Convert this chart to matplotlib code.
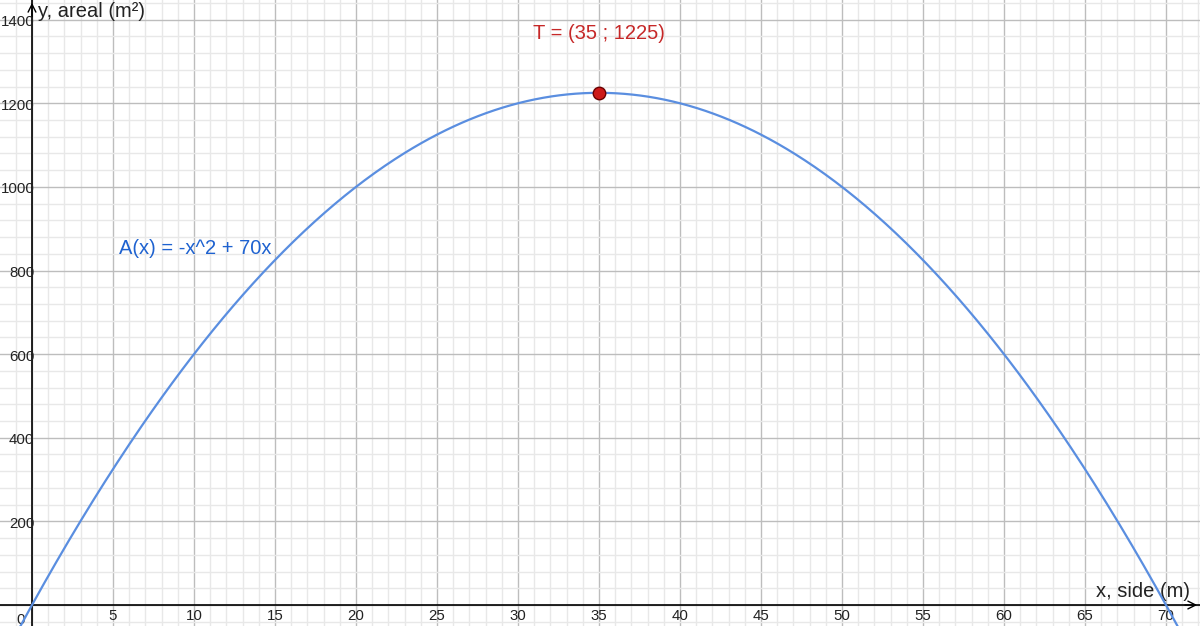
import numpy as np
import matplotlib
matplotlib.use("Agg")
import matplotlib.pyplot as plt
from matplotlib.ticker import MultipleLocator

plt.rcParams['font.family'] = ['Liberation Sans', 'DejaVu Sans']

# A(x) = -x^2 + 70x
coeffs = [-1, 70, 0]
vertex_x = 35
vertex_y = 1225
x_ticks = [5, 10, 15, 20, 25, 30, 35, 40, 45, 50, 55, 60, 65, 70]
y_ticks = [200, 400, 600, 800, 1000, 1200, 1400]

fig = plt.figure(figsize=(12, 6.26), dpi=100)
ax = fig.add_axes([0, 0, 1, 1])
ax.set_xlim(-1.975, 72.1)
ax.set_ylim(-50.2, 1447)

# grid
ax.xaxis.set_major_locator(MultipleLocator(5))
ax.xaxis.set_minor_locator(MultipleLocator(1))
ax.yaxis.set_major_locator(MultipleLocator(200))
ax.yaxis.set_minor_locator(MultipleLocator(40))
ax.grid(which='major', color='#bdbdbd', lw=1)
ax.grid(which='minor', color='#e8e8e8', lw=1)
ax.set_axisbelow(True)
ax.tick_params(which='both', length=0, labelbottom=False, labelleft=False)
for s in ax.spines.values():
    s.set_visible(False)

# axes
ax.axhline(0, color='black', lw=1.2, zorder=2)
ax.axvline(0, color='black', lw=1.2, zorder=2)
ax.annotate('', xy=(72.1, 0), xytext=(71.0, 0),
            arrowprops=dict(arrowstyle='->', color='black', lw=1.0, mutation_scale=14))
ax.annotate('', xy=(0, 1447), xytext=(0, 1400),
            arrowprops=dict(arrowstyle='->', color='black', lw=1.0, mutation_scale=14))

# tick labels
for t in x_ticks:
    ax.text(t, -10, str(t), ha='center', va='top', fontsize=10.8, color='#222222')
for t in y_ticks:
    ax.text(0.15, t - 6, str(t), ha='right', va='center', fontsize=10.8, color='#222222')
ax.text(-0.45, -19, '0', ha='right', va='top', fontsize=10.8, color='#222222')

ax.text(71.5, 10, 'x, side (m)', ha='right', va='bottom', fontsize=14.5, color='#222222')
ax.text(0.35, 1443, 'y, areal (m²)', ha='left', va='top', fontsize=14.5, color='#222222')

# curve
xs = np.linspace(-2, 73, 600)
ax.plot(xs, np.polyval(coeffs, xs), color='#5a8ee0', lw=1.6, zorder=3)
ax.text(5.4, 852, 'A(x) = -x^2 + 70x', fontsize=14.5, color='#1e62d0', va='center')

# vertex
ax.plot(vertex_x, vertex_y, 'o', ms=9, color='#cc1a1a', mec='#6a0000', mew=1, zorder=4)
ax.text(vertex_x, 1368, 'T = (%d ; %d)' % (vertex_x, vertex_y), ha='center', va='center',
        fontsize=14.5, color='#c62828')

fig.savefig('out.png', dpi=100)
